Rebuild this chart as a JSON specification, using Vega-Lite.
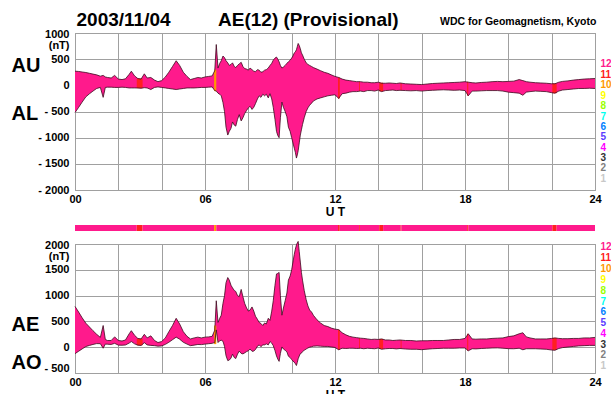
{
  "$schema": "https://vega.github.io/schema/vega-lite/v6.json",
  "padding": {"left": 10, "top": 11, "right": 0, "bottom": 0},
  "background": "white",
  "config": {
    "view": {"stroke": "#8a8a8a", "strokeWidth": 1},
    "font": "Liberation Sans",
    "axis": {"labelFont": "Liberation Sans", "labelFontWeight": "bold", "labelFontSize": 11, "labelColor": "black", "gridColor": "#a0a0a0", "gridWidth": 1, "gridOpacity": 1, "domain": false, "ticks": false, "titleFont": "Liberation Sans", "titleFontWeight": "bold", "titleColor": "black", "labelOverlap": false}
  },
  "title": {"text": "2003/11/04\u00a0\u00a0\u00a0\u00a0\u00a0\u00a0\u00a0\u00a0\u00a0AE(12) (Provisional)", "anchor": "start", "font": "Liberation Sans", "fontSize": 19, "fontWeight": "bold", "color": "black", "offset": -14, "dx": 66},
  "datasets": {
    "main": [
      {"h":0,"au":270,"al":-520,"ae":790,"ao":-125},
      {"h":0.17,"au":265,"al":-420,"ae":680,"ao":-78},
      {"h":0.33,"au":255,"al":-320,"ae":570,"ao":-33},
      {"h":0.5,"au":245,"al":-220,"ae":465,"ao":13},
      {"h":0.67,"au":230,"al":-160,"ae":390,"ao":35},
      {"h":0.83,"au":215,"al":-110,"ae":320,"ao":53},
      {"h":1.0,"au":200,"al":-60,"ae":250,"ao":70},
      {"h":1.17,"au":175,"al":-40,"ae":190,"ao":68},
      {"h":1.3,"au":190,"al":-230,"ae":420,"ao":-20},
      {"h":1.4,"au":160,"al":-40,"ae":150,"ao":60},
      {"h":1.5,"au":150,"al":-35,"ae":130,"ao":58},
      {"h":1.67,"au":140,"al":-35,"ae":130,"ao":53},
      {"h":1.83,"au":190,"al":-40,"ae":200,"ao":75},
      {"h":2.0,"au":120,"al":-40,"ae":130,"ao":40},
      {"h":2.17,"au":110,"al":-35,"ae":120,"ao":38},
      {"h":2.33,"au":125,"al":-40,"ae":140,"ao":43},
      {"h":2.5,"au":210,"al":-50,"ae":260,"ao":80},
      {"h":2.6,"au":270,"al":-50,"ae":320,"ao":110},
      {"h":2.75,"au":180,"al":-50,"ae":230,"ao":65},
      {"h":2.9,"au":130,"al":-50,"ae":170,"ao":40},
      {"h":3.05,"au":120,"al":-55,"ae":160,"ao":33},
      {"h":3.2,"au":220,"al":-45,"ae":250,"ao":88},
      {"h":3.33,"au":140,"al":-50,"ae":180,"ao":45},
      {"h":3.5,"au":150,"al":-80,"ae":220,"ao":35},
      {"h":3.67,"au":100,"al":-40,"ae":130,"ao":30},
      {"h":3.83,"au":70,"al":-30,"ae":90,"ao":20},
      {"h":4.0,"au":90,"al":-40,"ae":110,"ao":25},
      {"h":4.17,"au":160,"al":-50,"ae":180,"ao":55},
      {"h":4.33,"au":250,"al":-60,"ae":300,"ao":95},
      {"h":4.5,"au":360,"al":-70,"ae":420,"ao":145},
      {"h":4.67,"au":470,"al":-80,"ae":560,"ao":195},
      {"h":4.83,"au":380,"al":-70,"ae":450,"ao":155},
      {"h":5.0,"au":250,"al":-60,"ae":300,"ao":95},
      {"h":5.17,"au":170,"al":-50,"ae":210,"ao":60},
      {"h":5.33,"au":110,"al":-50,"ae":160,"ao":30},
      {"h":5.5,"au":130,"al":-50,"ae":180,"ao":40},
      {"h":5.67,"au":150,"al":-45,"ae":195,"ao":53},
      {"h":5.83,"au":140,"al":-40,"ae":180,"ao":50},
      {"h":6.0,"au":160,"al":-40,"ae":195,"ao":60},
      {"h":6.17,"au":170,"al":-35,"ae":200,"ao":68},
      {"h":6.33,"au":180,"al":-30,"ae":210,"ao":75},
      {"h":6.45,"au":280,"al":-100,"ae":330,"ao":90},
      {"h":6.52,"au":780,"al":-110,"ae":900,"ao":335},
      {"h":6.6,"au":330,"al":-150,"ae":480,"ao":90},
      {"h":6.68,"au":420,"al":-170,"ae":560,"ao":125},
      {"h":6.75,"au":470,"al":-200,"ae":620,"ao":135},
      {"h":6.83,"au":560,"al":-330,"ae":850,"ao":115},
      {"h":6.9,"au":530,"al":-500,"ae":1000,"ao":15},
      {"h":6.97,"au":470,"al":-800,"ae":1250,"ao":-165},
      {"h":7.05,"au":430,"al":-950,"ae":1350,"ao":-260},
      {"h":7.12,"au":380,"al":-880,"ae":1300,"ao":-250},
      {"h":7.2,"au":400,"al":-820,"ae":1200,"ao":-210},
      {"h":7.27,"au":430,"al":-700,"ae":1150,"ao":-135},
      {"h":7.35,"au":360,"al":-760,"ae":1100,"ao":-200},
      {"h":7.42,"au":340,"al":-780,"ae":1080,"ao":-220},
      {"h":7.5,"au":380,"al":-650,"ae":1000,"ao":-135},
      {"h":7.58,"au":410,"al":-560,"ae":980,"ao":-75},
      {"h":7.67,"au":440,"al":-680,"ae":1120,"ao":-120},
      {"h":7.75,"au":360,"al":-620,"ae":980,"ao":-130},
      {"h":7.83,"au":320,"al":-540,"ae":850,"ao":-110},
      {"h":7.92,"au":310,"al":-480,"ae":760,"ao":-85},
      {"h":8.0,"au":290,"al":-430,"ae":700,"ao":-70},
      {"h":8.08,"au":330,"al":-400,"ae":720,"ao":-35},
      {"h":8.17,"au":300,"al":-460,"ae":780,"ao":-80},
      {"h":8.25,"au":270,"al":-420,"ae":700,"ao":-75},
      {"h":8.33,"au":260,"al":-350,"ae":600,"ao":-45},
      {"h":8.42,"au":300,"al":-260,"ae":540,"ao":20},
      {"h":8.5,"au":290,"al":-200,"ae":480,"ao":45},
      {"h":8.58,"au":250,"al":-230,"ae":460,"ao":10},
      {"h":8.67,"au":260,"al":-170,"ae":420,"ao":45},
      {"h":8.75,"au":290,"al":-200,"ae":470,"ao":45},
      {"h":8.83,"au":300,"al":-170,"ae":450,"ao":65},
      {"h":8.92,"au":330,"al":-240,"ae":560,"ao":45},
      {"h":9.0,"au":380,"al":-160,"ae":520,"ao":110},
      {"h":9.08,"au":420,"al":-260,"ae":700,"ao":80},
      {"h":9.15,"au":480,"al":-420,"ae":900,"ao":30},
      {"h":9.23,"au":520,"al":-650,"ae":1200,"ao":-65},
      {"h":9.3,"au":540,"al":-880,"ae":1420,"ao":-170},
      {"h":9.36,"au":500,"al":-960,"ae":1430,"ao":-230},
      {"h":9.42,"au":450,"al":-1000,"ae":1450,"ao":-275},
      {"h":9.48,"au":380,"al":-620,"ae":1000,"ao":-120},
      {"h":9.55,"au":330,"al":-320,"ae":620,"ao":5},
      {"h":9.62,"au":350,"al":-420,"ae":760,"ao":-35},
      {"h":9.7,"au":380,"al":-500,"ae":900,"ao":-60},
      {"h":9.78,"au":420,"al":-600,"ae":1050,"ao":-90},
      {"h":9.85,"au":450,"al":-800,"ae":1300,"ao":-175},
      {"h":9.93,"au":480,"al":-880,"ae":1380,"ao":-200},
      {"h":10.0,"au":520,"al":-1000,"ae":1500,"ao":-240},
      {"h":10.06,"au":560,"al":-1100,"ae":1650,"ao":-270},
      {"h":10.12,"au":620,"al":-1200,"ae":1800,"ao":-290},
      {"h":10.17,"au":640,"al":-1280,"ae":1900,"ao":-320},
      {"h":10.22,"au":680,"al":-1390,"ae":1980,"ao":-355},
      {"h":10.26,"au":740,"al":-1330,"ae":2020,"ao":-295},
      {"h":10.3,"au":800,"al":-1250,"ae":2050,"ao":-225},
      {"h":10.35,"au":760,"al":-1100,"ae":1850,"ao":-170},
      {"h":10.4,"au":700,"al":-950,"ae":1650,"ao":-125},
      {"h":10.45,"au":620,"al":-850,"ae":1450,"ao":-115},
      {"h":10.5,"au":580,"al":-750,"ae":1300,"ao":-85},
      {"h":10.58,"au":500,"al":-620,"ae":1100,"ao":-60},
      {"h":10.67,"au":430,"al":-500,"ae":920,"ao":-35},
      {"h":10.75,"au":400,"al":-430,"ae":800,"ao":-15},
      {"h":10.83,"au":380,"al":-380,"ae":720,"ao":0},
      {"h":10.92,"au":360,"al":-340,"ae":680,"ao":10},
      {"h":11.0,"au":340,"al":-300,"ae":620,"ao":20},
      {"h":11.17,"au":310,"al":-260,"ae":530,"ao":25},
      {"h":11.33,"au":280,"al":-240,"ae":470,"ao":20},
      {"h":11.5,"au":250,"al":-220,"ae":420,"ao":15},
      {"h":11.67,"au":230,"al":-200,"ae":400,"ao":15},
      {"h":11.83,"au":200,"al":-190,"ae":370,"ao":5},
      {"h":12.0,"au":170,"al":-180,"ae":350,"ao":-5},
      {"h":12.17,"au":150,"al":-250,"ae":340,"ao":-50},
      {"h":12.33,"au":120,"al":-160,"ae":280,"ao":-20},
      {"h":12.5,"au":100,"al":-150,"ae":240,"ao":-25},
      {"h":12.67,"au":90,"al":-130,"ae":210,"ao":-20},
      {"h":12.83,"au":80,"al":-120,"ae":195,"ao":-20},
      {"h":13.0,"au":70,"al":-120,"ae":185,"ao":-25},
      {"h":13.17,"au":70,"al":-110,"ae":175,"ao":-20},
      {"h":13.33,"au":60,"al":-120,"ae":170,"ao":-30},
      {"h":13.5,"au":60,"al":-100,"ae":160,"ao":-20},
      {"h":13.67,"au":50,"al":-100,"ae":150,"ao":-25},
      {"h":13.83,"au":50,"al":-110,"ae":155,"ao":-30},
      {"h":14.0,"au":60,"al":-90,"ae":150,"ao":-15},
      {"h":14.15,"au":40,"al":-120,"ae":160,"ao":-40},
      {"h":14.33,"au":40,"al":-100,"ae":140,"ao":-30},
      {"h":14.5,"au":45,"al":-95,"ae":140,"ao":-25},
      {"h":14.67,"au":40,"al":-90,"ae":130,"ao":-25},
      {"h":14.83,"au":35,"al":-100,"ae":135,"ao":-33},
      {"h":15.0,"au":45,"al":-95,"ae":140,"ao":-25},
      {"h":15.25,"au":30,"al":-100,"ae":130,"ao":-35},
      {"h":15.5,"au":25,"al":-105,"ae":130,"ao":-40},
      {"h":15.75,"au":20,"al":-100,"ae":120,"ao":-40},
      {"h":16.0,"au":15,"al":-110,"ae":125,"ao":-48},
      {"h":16.25,"au":25,"al":-100,"ae":125,"ao":-38},
      {"h":16.5,"au":35,"al":-95,"ae":130,"ao":-30},
      {"h":16.75,"au":40,"al":-90,"ae":130,"ao":-25},
      {"h":17.0,"au":45,"al":-85,"ae":130,"ao":-20},
      {"h":17.25,"au":50,"al":-90,"ae":140,"ao":-20},
      {"h":17.5,"au":55,"al":-95,"ae":150,"ao":-20},
      {"h":17.75,"au":60,"al":-90,"ae":150,"ao":-15},
      {"h":18.0,"au":70,"al":-100,"ae":170,"ao":-15},
      {"h":18.15,"au":60,"al":-200,"ae":260,"ao":-70},
      {"h":18.33,"au":50,"al":-110,"ae":160,"ao":-30},
      {"h":18.5,"au":45,"al":-110,"ae":155,"ao":-33},
      {"h":18.75,"au":55,"al":-105,"ae":160,"ao":-25},
      {"h":19.0,"au":60,"al":-100,"ae":160,"ao":-20},
      {"h":19.25,"au":70,"al":-100,"ae":170,"ao":-15},
      {"h":19.5,"au":75,"al":-100,"ae":175,"ao":-13},
      {"h":19.75,"au":70,"al":-110,"ae":180,"ao":-20},
      {"h":20.0,"au":75,"al":-130,"ae":205,"ao":-28},
      {"h":20.25,"au":80,"al":-140,"ae":220,"ao":-30},
      {"h":20.5,"au":110,"al":-150,"ae":260,"ao":-20},
      {"h":20.67,"au":90,"al":-190,"ae":280,"ao":-50},
      {"h":20.83,"au":70,"al":-130,"ae":200,"ao":-30},
      {"h":21.0,"au":60,"al":-120,"ae":180,"ao":-30},
      {"h":21.25,"au":50,"al":-110,"ae":160,"ao":-30},
      {"h":21.5,"au":45,"al":-115,"ae":160,"ao":-35},
      {"h":21.75,"au":40,"al":-120,"ae":160,"ao":-40},
      {"h":22.0,"au":30,"al":-140,"ae":170,"ao":-55},
      {"h":22.15,"au":30,"al":-150,"ae":180,"ao":-60},
      {"h":22.33,"au":60,"al":-110,"ae":170,"ao":-25},
      {"h":22.5,"au":75,"al":-90,"ae":165,"ao":-8},
      {"h":22.75,"au":85,"al":-80,"ae":165,"ao":3},
      {"h":23.0,"au":100,"al":-70,"ae":170,"ao":15},
      {"h":23.25,"au":110,"al":-60,"ae":170,"ao":25},
      {"h":23.5,"au":120,"al":-60,"ae":180,"ao":30},
      {"h":23.75,"au":125,"al":-55,"ae":180,"ao":35},
      {"h":24.0,"au":130,"al":-60,"ae":190,"ao":35}
    ],
    "seg": [
      {"t0":0,"t1":2.85,"n":12,"au":0,"al":0,"ae":0,"ao":0},
      {"t0":2.85,"t1":3.12,"n":11,"au":130,"al":-55,"ae":165,"ao":38},
      {"t0":3.12,"t1":6.42,"n":12,"au":0,"al":0,"ae":0,"ao":0},
      {"t0":6.42,"t1":6.52,"n":10,"au":300,"al":-110,"ae":420,"ao":60},
      {"t0":6.52,"t1":12.14,"n":12,"au":0,"al":0,"ae":0,"ao":0},
      {"t0":12.14,"t1":12.22,"n":11,"au":150,"al":-250,"ae":340,"ao":-50},
      {"t0":12.22,"t1":13.11,"n":12,"au":0,"al":0,"ae":0,"ao":0},
      {"t0":13.11,"t1":13.15,"n":11,"au":70,"al":-110,"ae":175,"ao":-20},
      {"t0":13.15,"t1":14.04,"n":12,"au":0,"al":0,"ae":0,"ao":0},
      {"t0":14.04,"t1":14.22,"n":11,"au":50,"al":-115,"ae":160,"ao":-35},
      {"t0":14.22,"t1":15.03,"n":12,"au":0,"al":0,"ae":0,"ao":0},
      {"t0":15.03,"t1":15.07,"n":11,"au":45,"al":-95,"ae":140,"ao":-25},
      {"t0":15.07,"t1":18.1,"n":12,"au":0,"al":0,"ae":0,"ao":0},
      {"t0":18.1,"t1":18.15,"n":11,"au":70,"al":-200,"ae":260,"ao":-70},
      {"t0":18.15,"t1":22.03,"n":12,"au":0,"al":0,"ae":0,"ao":0},
      {"t0":22.03,"t1":22.23,"n":11,"au":35,"al":-150,"ae":180,"ao":-55},
      {"t0":22.23,"t1":24,"n":12,"au":0,"al":0,"ae":0,"ao":0}
    ]
  },
  "spacing": 7,
  "vconcat": [
    {
      "width": 520,
      "height": 157,
      "title": {"text": "WDC for Geomagnetism, Kyoto", "anchor": "start", "font": "Liberation Sans", "fontSize": 10.5, "fontWeight": "bold", "color": "black", "offset": 1, "dx": 429},
      "data": {"name": "main"},
      "resolve": {"axis": {"y": "independent"}},
      "layer": [
        {
          "mark": {"type": "area", "color": "#ff1a8c", "opacity": 1},
          "encoding": {
            "x": {"field": "h", "type": "quantitative", "scale": {"domain": [0, 24], "nice": false, "zero": false},
              "axis": {"values": [0,1,2,3,4,5,6,7,8,9,10,11,12,13,14,15,16,17,18,19,20,21,22,23,24], "grid": true, "gridColor": "#a0a0a0", "labelOverlap": false, "labelFlush": false, "labelPadding": 3,
                "labelExpr": "datum.value % 6 == 0 ? (datum.value < 10 ? '0' + datum.value : '' + datum.value) : ''",
                "title": "U T", "titleFontSize": 12, "titlePadding": 2}},
            "y": {"field": "au", "type": "quantitative", "scale": {"domain": [-2000, 1000], "nice": false, "zero": false},
              "axis": {"values": [-2000,-1500,-1000,-500,0,500,1000], "grid": true, "gridColor": "#a0a0a0", "labelOverlap": false, "labelPadding": 6, "labelLineHeight": 11,
                "labelExpr": "datum.value == 1000 ? ['1000', '(nT)'] : (datum.value < 0 ? '- ' + (-datum.value) : '' + datum.value)",
                "labelBaseline": {"condition": {"test": "datum.value == 1000", "value": "top"}, "value": "middle"},
                "labelOffset": {"condition": {"test": "datum.value == 1000", "value": -5}, "value": 0},
                "title": ["AU", "AL"], "titleAngle": 0, "titleAlign": "left", "titleBaseline": "top", "titleX": -64, "titleY": 22, "titleFontSize": 20, "titleLineHeight": 48}},
            "y2": {"field": "al"}
          }
        },
        {
          "data": {"name": "seg"},
          "transform": [{"filter": "datum.n != 12"}],
          "mark": {"type": "rect"},
          "encoding": {
            "x": {"field": "t0", "type": "quantitative"},
            "x2": {"field": "t1"},
            "y": {"field": "al", "type": "quantitative", "axis": null},
            "y2": {"field": "au"},
            "color": {"field": "n", "type": "ordinal", "scale": {"domain": [12,11,10,9,8,7,6,5,4,3,2,1], "range": ["#ff1a8c","#ff2020","#ff9900","#ffff00","#99ff00","#00ffee","#0080ff","#5a3cff","#ff00ff","#333333","#808080","#c8c8c8"]}, "legend": null}
          }
        },
        {
          "mark": {"type": "line", "color": "#3c0a1e", "strokeWidth": 0.8},
          "encoding": {"x": {"field": "h", "type": "quantitative"},
            "y": {"field": "au", "type": "quantitative",
              "axis": {"orient": "right", "title": null, "grid": false, "labelOverlap": false, "labelPadding": 5, "labelFontSize": 10, "labelBaseline": "middle",
                "values": [408,209,11,-188,-387,-586,-784,-983,-1182,-1381,-1579,-1778],
                "labelExpr": "'' + (12 - indexof([408,209,11,-188,-387,-586,-784,-983,-1182,-1381,-1579,-1778], datum.value))",
                "labelColor": {"condition": [
                  {"test": "datum.value == 408", "value": "#ff1a8c"},
                  {"test": "datum.value == 209", "value": "#ff2020"},
                  {"test": "datum.value == 11", "value": "#ff9900"},
                  {"test": "datum.value == -188", "value": "#ffff00"},
                  {"test": "datum.value == -387", "value": "#99ff00"},
                  {"test": "datum.value == -586", "value": "#00ffee"},
                  {"test": "datum.value == -784", "value": "#0080ff"},
                  {"test": "datum.value == -983", "value": "#5a3cff"},
                  {"test": "datum.value == -1182", "value": "#ff00ff"},
                  {"test": "datum.value == -1381", "value": "#333333"},
                  {"test": "datum.value == -1579", "value": "#808080"}
                ], "value": "#c8c8c8"}}}}
        },
        {
          "mark": {"type": "line", "color": "#3c0a1e", "strokeWidth": 0.8},
          "encoding": {"x": {"field": "h", "type": "quantitative"}, "y": {"field": "al", "type": "quantitative", "axis": null}}
        }
      ]
    },
    {
      "width": 520,
      "height": 6,
      "view": {"stroke": null},
      "data": {"name": "seg"},
      "mark": {"type": "rect"},
      "encoding": {
        "x": {"field": "t0", "type": "quantitative", "scale": {"domain": [0, 24], "nice": false, "zero": false}, "axis": null},
        "x2": {"field": "t1"},
        "color": {"field": "n", "type": "ordinal", "scale": {"domain": [12,11,10,9,8,7,6,5,4,3,2,1], "range": ["#ff1a8c","#ff2020","#ff9900","#ffff00","#99ff00","#00ffee","#0080ff","#5a3cff","#ff00ff","#333333","#808080","#c8c8c8"]}, "legend": null}
      }
    },
    {
      "width": 520,
      "height": 129,
      "data": {"name": "main"},
      "resolve": {"axis": {"y": "independent"}},
      "layer": [
        {
          "mark": {"type": "area", "color": "#ff1a8c", "opacity": 1},
          "encoding": {
            "x": {"field": "h", "type": "quantitative", "scale": {"domain": [0, 24], "nice": false, "zero": false},
              "axis": {"values": [0,1,2,3,4,5,6,7,8,9,10,11,12,13,14,15,16,17,18,19,20,21,22,23,24], "grid": true, "gridColor": "#a0a0a0", "labelOverlap": false, "labelFlush": false, "labelPadding": 3,
                "labelExpr": "datum.value % 6 == 0 ? (datum.value < 10 ? '0' + datum.value : '' + datum.value) : ''",
                "title": "U T", "titleFontSize": 12, "titlePadding": 2}},
            "y": {"field": "ae", "type": "quantitative", "scale": {"domain": [-500, 2000], "nice": false, "zero": false},
              "axis": {"values": [-500,0,500,1000,1500,2000], "grid": true, "gridColor": "#a0a0a0", "labelOverlap": false, "labelPadding": 6, "labelLineHeight": 11,
                "labelExpr": "datum.value == 2000 ? ['2000', '(nT)'] : (datum.value < 0 ? '- ' + (-datum.value) : '' + datum.value)",
                "labelBaseline": {"condition": {"test": "datum.value == 2000", "value": "top"}, "value": "middle"},
                "labelOffset": {"condition": {"test": "datum.value == 2000 || datum.value == -500", "value": -5}, "value": 0},
                "title": ["AE", "AO"], "titleAngle": 0, "titleAlign": "left", "titleBaseline": "top", "titleX": -64, "titleY": 70, "titleFontSize": 20, "titleLineHeight": 38}},
            "y2": {"field": "ao"}
          }
        },
        {
          "data": {"name": "seg"},
          "transform": [{"filter": "datum.n != 12"}],
          "mark": {"type": "rect"},
          "encoding": {
            "x": {"field": "t0", "type": "quantitative"},
            "x2": {"field": "t1"},
            "y": {"field": "ao", "type": "quantitative", "axis": null},
            "y2": {"field": "ae"},
            "color": {"field": "n", "type": "ordinal", "scale": {"domain": [12,11,10,9,8,7,6,5,4,3,2,1], "range": ["#ff1a8c","#ff2020","#ff9900","#ffff00","#99ff00","#00ffee","#0080ff","#5a3cff","#ff00ff","#333333","#808080","#c8c8c8"]}, "legend": null}
          }
        },
        {
          "mark": {"type": "line", "color": "#3c0a1e", "strokeWidth": 0.8},
          "encoding": {"x": {"field": "h", "type": "quantitative"},
            "y": {"field": "ae", "type": "quantitative",
              "axis": {"orient": "right", "title": null, "grid": false, "labelOverlap": false, "labelPadding": 5, "labelFontSize": 10, "labelBaseline": "middle",
                "values": [1942,1733,1523,1314,1105,895,686,477,267,58,-151,-360],
                "labelExpr": "'' + (12 - indexof([1942,1733,1523,1314,1105,895,686,477,267,58,-151,-360], datum.value))",
                "labelColor": {"condition": [
                  {"test": "datum.value == 1942", "value": "#ff1a8c"},
                  {"test": "datum.value == 1733", "value": "#ff2020"},
                  {"test": "datum.value == 1523", "value": "#ff9900"},
                  {"test": "datum.value == 1314", "value": "#ffff00"},
                  {"test": "datum.value == 1105", "value": "#99ff00"},
                  {"test": "datum.value == 895", "value": "#00ffee"},
                  {"test": "datum.value == 686", "value": "#0080ff"},
                  {"test": "datum.value == 477", "value": "#5a3cff"},
                  {"test": "datum.value == 267", "value": "#ff00ff"},
                  {"test": "datum.value == 58", "value": "#333333"},
                  {"test": "datum.value == -151", "value": "#808080"}
                ], "value": "#c8c8c8"}}}}
        },
        {
          "mark": {"type": "line", "color": "#3c0a1e", "strokeWidth": 0.8},
          "encoding": {"x": {"field": "h", "type": "quantitative"}, "y": {"field": "ao", "type": "quantitative", "axis": null}}
        }
      ]
    }
  ]
}
